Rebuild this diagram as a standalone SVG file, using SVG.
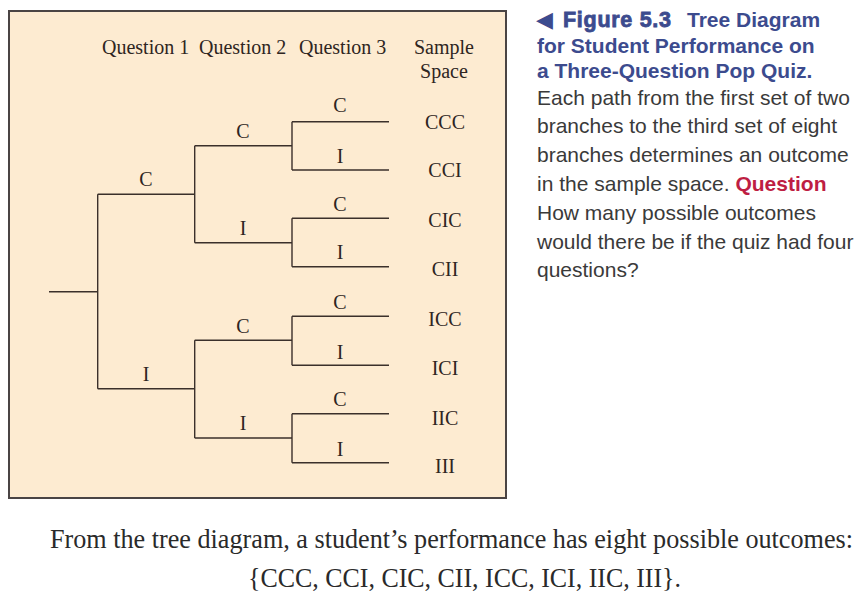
<svg xmlns="http://www.w3.org/2000/svg" width="866" height="609" viewBox="0 0 866 609">
<style>
.bg{fill:#fdebd1;stroke:#4a4444;stroke-width:2}
.br{fill:none;stroke:#3b302b;stroke-width:1.4}
.t{font-family:"Liberation Serif","Times New Roman",serif;font-size:20px;fill:#2e2522}
.m{text-anchor:middle}
.cap{font-family:"Liberation Sans",Arial,sans-serif;font-size:21px;fill:#3c4b8e;font-weight:bold}
.heavy{stroke:#3c4b8e;stroke-width:0.8;font-size:21.5px}
.body{font-family:"Liberation Sans",Arial,sans-serif;font-size:21px;fill:#3a3a3a}
.red{fill:#be1e43;font-weight:bold}
.foot{font-family:"Liberation Serif","Times New Roman",serif;font-size:26.5px;fill:#2a2a2a}
</style>
<rect class="bg" x="9" y="11" width="497" height="487"/>
<g id="headers">
<text class="t" x="102" y="54">Question 1</text>
<text class="t" x="199" y="54">Question 2</text>
<text class="t" x="299" y="54">Question 3</text>
<text class="t m" x="444" y="54">Sample</text>
<text class="t m" x="444" y="78">Space</text>
</g>
<g id="connectors">
<path class="br" d="M49 291.7H97.7M97.7 194.3V388.7M97.7 194.3H194.7M97.7 388.7H194.7"/>
<path class="br" d="M194.7 145.7V242.7M194.7 145.7H292M194.7 242.7H292M194.7 340.3V438M194.7 340.3H292M194.7 438H292"/>
<path class="br" d="M292 121.7V170M292 121.7H389M292 170H389M292 218.3V266.7M292 218.3H389M292 266.7H389M292 316.3V365.3M292 316.3H389M292 365.3H389M292 413.7V462.7M292 413.7H389M292 462.7H389"/>
</g>
<g id="q1-labels">
<text class="t m" x="146" y="186">C</text>
<text class="t m" x="146" y="381">I</text>
</g>
<g id="q2-labels">
<text class="t m" x="243" y="138">C</text>
<text class="t m" x="243" y="235">I</text>
<text class="t m" x="243" y="333">C</text>
<text class="t m" x="243" y="430">I</text>
</g>
<g id="q3-labels">
<text class="t m" x="340" y="112">C</text>
<text class="t m" x="340" y="163">I</text>
<text class="t m" x="340" y="211">C</text>
<text class="t m" x="340" y="259">I</text>
<text class="t m" x="340" y="309">C</text>
<text class="t m" x="340" y="359">I</text>
<text class="t m" x="340" y="406">C</text>
<text class="t m" x="340" y="456">I</text>
</g>
<g id="sample-space">
<text class="t m" x="445" y="129">CCC</text>
<text class="t m" x="445" y="177">CCI</text>
<text class="t m" x="445" y="227">CIC</text>
<text class="t m" x="445" y="276">CII</text>
<text class="t m" x="445" y="326">ICC</text>
<text class="t m" x="445" y="375">ICI</text>
<text class="t m" x="445" y="425">IIC</text>
<text class="t m" x="445" y="473">III</text>
</g>
<g id="caption">
<text class="cap" x="536" y="27"><tspan font-family="DejaVu Sans" font-size="22">◀</tspan><tspan class="heavy" x="563" textLength="108" lengthAdjust="spacing">Figure 5.3</tspan><tspan x="687">Tree Diagram</tspan></text>
<text class="cap" x="537" y="52.5">for Student Performance on</text>
<text class="cap" x="537" y="77.5">a Three-Question Pop Quiz.</text>
<text class="body" x="537" y="104.5">Each path from the first set of two</text>
<text class="body" x="537" y="133.3">branches to the third set of eight</text>
<text class="body" x="537" y="162.1">branches determines an outcome</text>
<text class="body" x="537" y="190.9">in the sample space. <tspan class="red">Question</tspan></text>
<text class="body" x="537" y="219.7">How many possible outcomes</text>
<text class="body" x="537" y="248.5">would there be if the quiz had four</text>
<text class="body" x="537" y="277.3">questions?</text>
</g>
<g id="footer">
<text class="foot" x="50" y="548" textLength="803" lengthAdjust="spacingAndGlyphs">From the tree diagram, a student’s performance has eight possible outcomes:</text>
<text class="foot" x="248" y="587" textLength="433" lengthAdjust="spacingAndGlyphs">{CCC, CCI, CIC, CII, ICC, ICI, IIC, III}.</text>
</g>
</svg>
